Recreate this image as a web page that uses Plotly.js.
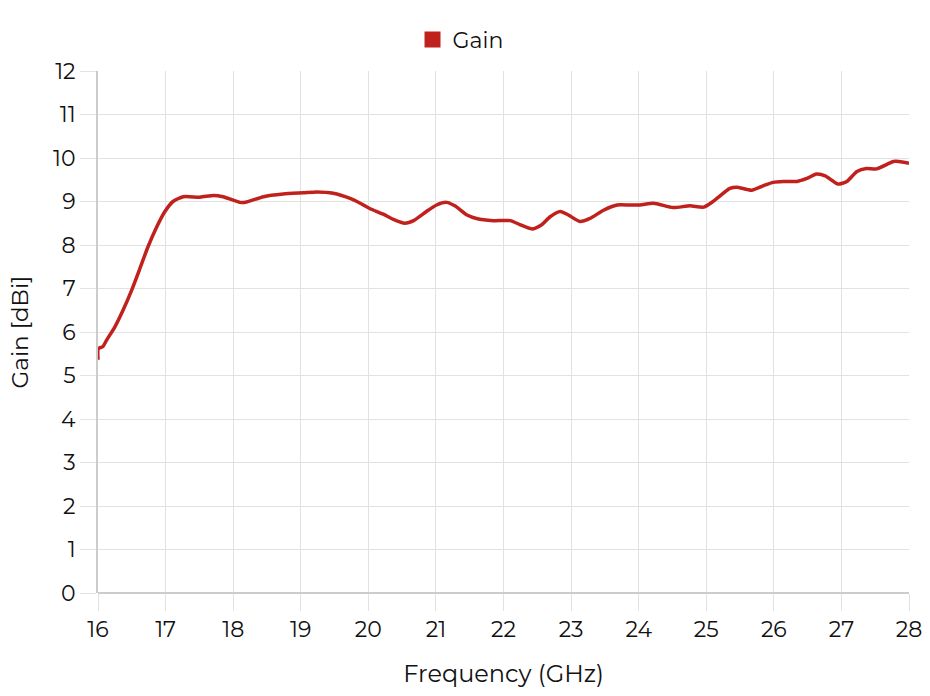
<!DOCTYPE html>
<html>
<head>
<meta charset="utf-8">
<script src="https://cdn.plot.ly/plotly-3.0.1.min.js"></script>
<style>html,body{margin:0;padding:0;background:#fff;}#chart{width:930px;height:696px;}</style>
</head>
<body>
<div id="chart"></div>
<script>
const freq = [16.0, 16.005, 16.07, 16.13, 16.25, 16.37, 16.5, 16.62, 16.74, 16.87, 16.99, 17.11, 17.26, 17.51, 17.71, 17.85, 18.1, 18.2, 18.45, 18.74, 19.04, 19.24, 19.48, 19.73, 19.88, 20.02, 20.22, 20.37, 20.54, 20.67, 20.86, 21.01, 21.16, 21.28, 21.46, 21.6, 21.85, 22.1, 22.24, 22.42, 22.56, 22.69, 22.84, 22.96, 23.13, 23.28, 23.48, 23.68, 23.87, 24.02, 24.22, 24.51, 24.76, 24.96, 25.1, 25.35, 25.45, 25.67, 25.84, 25.99, 26.14, 26.34, 26.49, 26.63, 26.76, 26.95, 27.08, 27.23, 27.37, 27.52, 27.77, 27.85, 28.0];
const gain = [5.36, 5.62, 5.66, 5.82, 6.12, 6.5, 6.97, 7.46, 7.96, 8.42, 8.77, 9.0, 9.11, 9.1, 9.14, 9.11, 8.98, 8.99, 9.11, 9.17, 9.2, 9.22, 9.19, 9.07, 8.96, 8.84, 8.71, 8.59, 8.5, 8.56, 8.77, 8.92, 8.98, 8.9, 8.69, 8.61, 8.56, 8.56, 8.47, 8.37, 8.46, 8.65, 8.77, 8.69, 8.54, 8.61, 8.8, 8.92, 8.92, 8.92, 8.96, 8.86, 8.9, 8.87, 9.0, 9.3, 9.33, 9.26, 9.36, 9.44, 9.46, 9.46, 9.53, 9.63, 9.59, 9.4, 9.46, 9.69, 9.76, 9.75, 9.92, 9.92, 9.88];
const seriesName = 'Gain';
const xTitle = 'Frequency (GHz)';
const yTitle = 'Gain [dBi]';

const red = '#c0211d';
const fontFam = 'Montserrat, "DejaVu Sans", "Open Sans", sans-serif';

const traces = [
  {x: freq, y: gain, type: 'scatter', mode: 'lines', name: seriesName,
   line: {color: red, width: 3.5, shape: 'spline', smoothing: 0.6}, showlegend: false},
  {x: [null], y: [null], type: 'scatter', mode: 'markers', name: seriesName,
   marker: {symbol: 'square', size: 24, color: red}, showlegend: true}
];

const layout = {
  width: 930, height: 696,
  margin: {l: 98, r: 21, t: 71, b: 103},
  paper_bgcolor: '#fff', plot_bgcolor: '#fff',
  font: {family: fontFam, size: 22, color: '#111'},
  showlegend: true,
  legend: {orientation: 'h', x: 0.447, xanchor: 'center', y: 1.06, yanchor: 'middle',
           yref: 'paper', font: {size: 22}},
  xaxis: {
    range: [16, 28], dtick: 1, tick0: 16,
    showgrid: true, gridcolor: '#e2e2e2', gridwidth: 1,
    ticks: 'outside', ticklen: 17, tickcolor: '#e2e2e2', tickwidth: 1,
    showline: false, zeroline: false,
    tickfont: {size: 22}, automargin: false,
    title: {text: xTitle, font: {size: 24}, standoff: 22}
  },
  yaxis: {
    range: [0, 12], dtick: 1, tick0: 0,
    showgrid: true, gridcolor: '#e2e2e2', gridwidth: 1,
    ticks: 'outside', ticklen: 16, tickcolor: '#e2e2e2', tickwidth: 1,
    showline: true, linecolor: '#cccccc', linewidth: 2,
    zeroline: true, zerolinecolor: '#cccccc', zerolinewidth: 2,
    tickfont: {size: 22}, automargin: false,
    title: {text: yTitle, font: {size: 23}, standoff: 18}
  }
};

Plotly.newPlot('chart', traces, layout, {displayModeBar: false, staticPlot: true});
</script>
</body>
</html>
